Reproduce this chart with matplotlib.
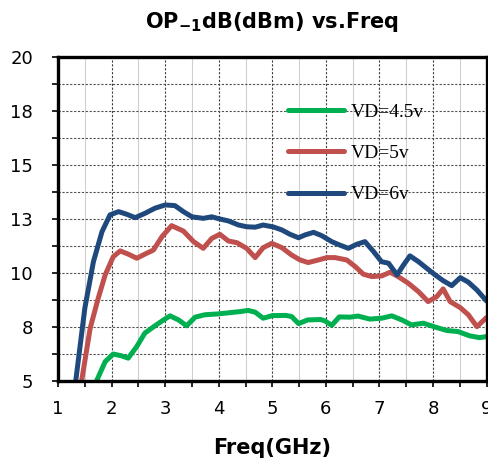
import numpy as np
import matplotlib
matplotlib.use('Agg')
import matplotlib.pyplot as plt
from matplotlib.ticker import MultipleLocator, FuncFormatter

# 频率 (GHz) 与 OP-1dB (dBm)
freq_45 = [1.55, 1.72, 1.88, 2.03, 2.18, 2.31, 2.47, 2.62, 2.81, 2.97, 3.09, 3.25, 3.40,
           3.56, 3.74, 3.99, 4.18, 4.37, 4.55, 4.68, 4.83, 5.00, 5.25, 5.36, 5.49, 5.66,
           5.90, 5.98, 6.11, 6.25, 6.45, 6.60, 6.82, 7.04, 7.23, 7.42, 7.60, 7.82, 8.04,
           8.26, 8.47, 8.69, 8.87, 9.00]
op_45 = [4.0, 5.0, 5.89, 6.24, 6.16, 6.05, 6.59, 7.21, 7.55, 7.82, 8.01, 7.82, 7.55,
         7.95, 8.06, 8.10, 8.15, 8.20, 8.26, 8.18, 7.90, 8.02, 8.03, 7.98, 7.65, 7.82,
         7.84, 7.78, 7.57, 7.96, 7.95, 8.00, 7.86, 7.90, 8.01, 7.82, 7.59, 7.67, 7.49,
         7.33, 7.28, 7.08, 7.00, 7.05]

freq_5 = [1.30, 1.44, 1.60, 1.75, 1.88, 2.03, 2.16, 2.31, 2.47, 2.62, 2.78, 2.94, 3.12,
          3.34, 3.53, 3.71, 3.87, 4.02, 4.18, 4.34, 4.52, 4.68, 4.83, 4.99, 5.18, 5.36,
          5.52, 5.67, 5.86, 6.02, 6.17, 6.39, 6.55, 6.70, 6.86, 7.04, 7.20, 7.35, 7.54,
          7.73, 7.91, 8.07, 8.19, 8.32, 8.51, 8.66, 8.82, 9.00]
op_5 = [3.0, 5.0, 7.44, 8.83, 9.91, 10.75, 11.02, 10.87, 10.68, 10.87, 11.06, 11.68, 12.19,
        11.94, 11.45, 11.14, 11.60, 11.79, 11.48, 11.40, 11.14, 10.71, 11.17, 11.37, 11.17, 10.83,
        10.60, 10.48, 10.60, 10.71, 10.71, 10.60, 10.29, 9.94, 9.83, 9.86, 10.03, 9.83, 9.52,
        9.13, 8.67, 8.90, 9.26, 8.67, 8.39, 8.06, 7.51, 7.93]

freq_6 = [1.20, 1.33, 1.50, 1.66, 1.82, 1.97, 2.13, 2.28, 2.44, 2.62, 2.81, 3.00, 3.18,
          3.34, 3.50, 3.71, 3.87, 4.02, 4.18, 4.37, 4.52, 4.68, 4.83, 5.02, 5.18, 5.33,
          5.49, 5.61, 5.77, 5.92, 6.11, 6.25, 6.42, 6.58, 6.73, 6.89, 7.04, 7.17, 7.33,
          7.45, 7.57, 7.73, 7.88, 8.04, 8.19, 8.35, 8.51, 8.66, 8.82, 9.00]
op_6 = [2.5, 5.0, 8.37, 10.52, 11.91, 12.69, 12.84, 12.72, 12.56, 12.76, 13.00, 13.15, 13.12,
        12.84, 12.60, 12.53, 12.60, 12.50, 12.41, 12.22, 12.14, 12.12, 12.22, 12.13, 11.99, 11.79,
        11.63, 11.76, 11.88, 11.73, 11.45, 11.30, 11.14, 11.33, 11.45, 10.99, 10.52, 10.45, 9.91,
        10.37, 10.79, 10.52, 10.22, 9.91, 9.64, 9.41, 9.78, 9.57, 9.21, 8.70]

labels = ['VD=4.5v', 'VD=5v', 'VD=6v']
colors = ['#00b050', '#c0504d', '#1f497d']

fig = plt.figure(figsize=(4.88, 4.61), dpi=100)
ax = fig.add_axes([0.119, 0.174, 0.878, 0.702])

series = [(freq_45, op_45), (freq_5, op_5), (freq_6, op_6)]
for (x, y), lab, c in zip(series, labels, colors):
    ax.plot(x, y, color=c, lw=3.6, label=lab, solid_capstyle='round', solid_joinstyle='round')

ax.set_xlim(1, 9)
ax.set_ylim(5, 20)
ax.xaxis.set_major_locator(MultipleLocator(1))
ax.xaxis.set_minor_locator(MultipleLocator(0.5))
ax.yaxis.set_major_locator(MultipleLocator(2.5))
ax.yaxis.set_minor_locator(MultipleLocator(1.25))
ax.yaxis.set_major_formatter(FuncFormatter(lambda v, p: f'{int(np.floor(v + 0.5))}'))

# 网格
ax.grid(which='major', axis='x', color='#404040', ls=(0, (2, 1.5)), lw=0.8)
ax.grid(which='minor', axis='x', color='#d0d0d0', ls='-', lw=0.8)
ax.grid(which='both', axis='y', color='#505050', ls=(0, (2, 1.5)), lw=0.8)
ax.set_axisbelow(True)

for s in ax.spines.values():
    s.set_linewidth(2.4)
ax.tick_params(which='both', direction='out', length=4, width=1.2, labelsize=13)
ax.tick_params(axis='y', pad=14)
ax.tick_params(axis='x', pad=10)

ax.set_title('OP$_{\\mathbf{-1}}$dB(dBm) vs.Freq', fontsize=15, fontweight='bold', pad=21)
ax.set_xlabel('Freq(GHz)', fontsize=15, fontweight='bold', labelpad=14)

ax.legend(loc='upper left', bbox_to_anchor=(0.537, 0.858), frameon=False,
          prop={'family': 'Liberation Serif', 'size': 14},
          handlelength=2.85, handletextpad=0.35, labelspacing=1.22,
          borderpad=0, borderaxespad=0)

plt.savefig('out.png', dpi=100)
